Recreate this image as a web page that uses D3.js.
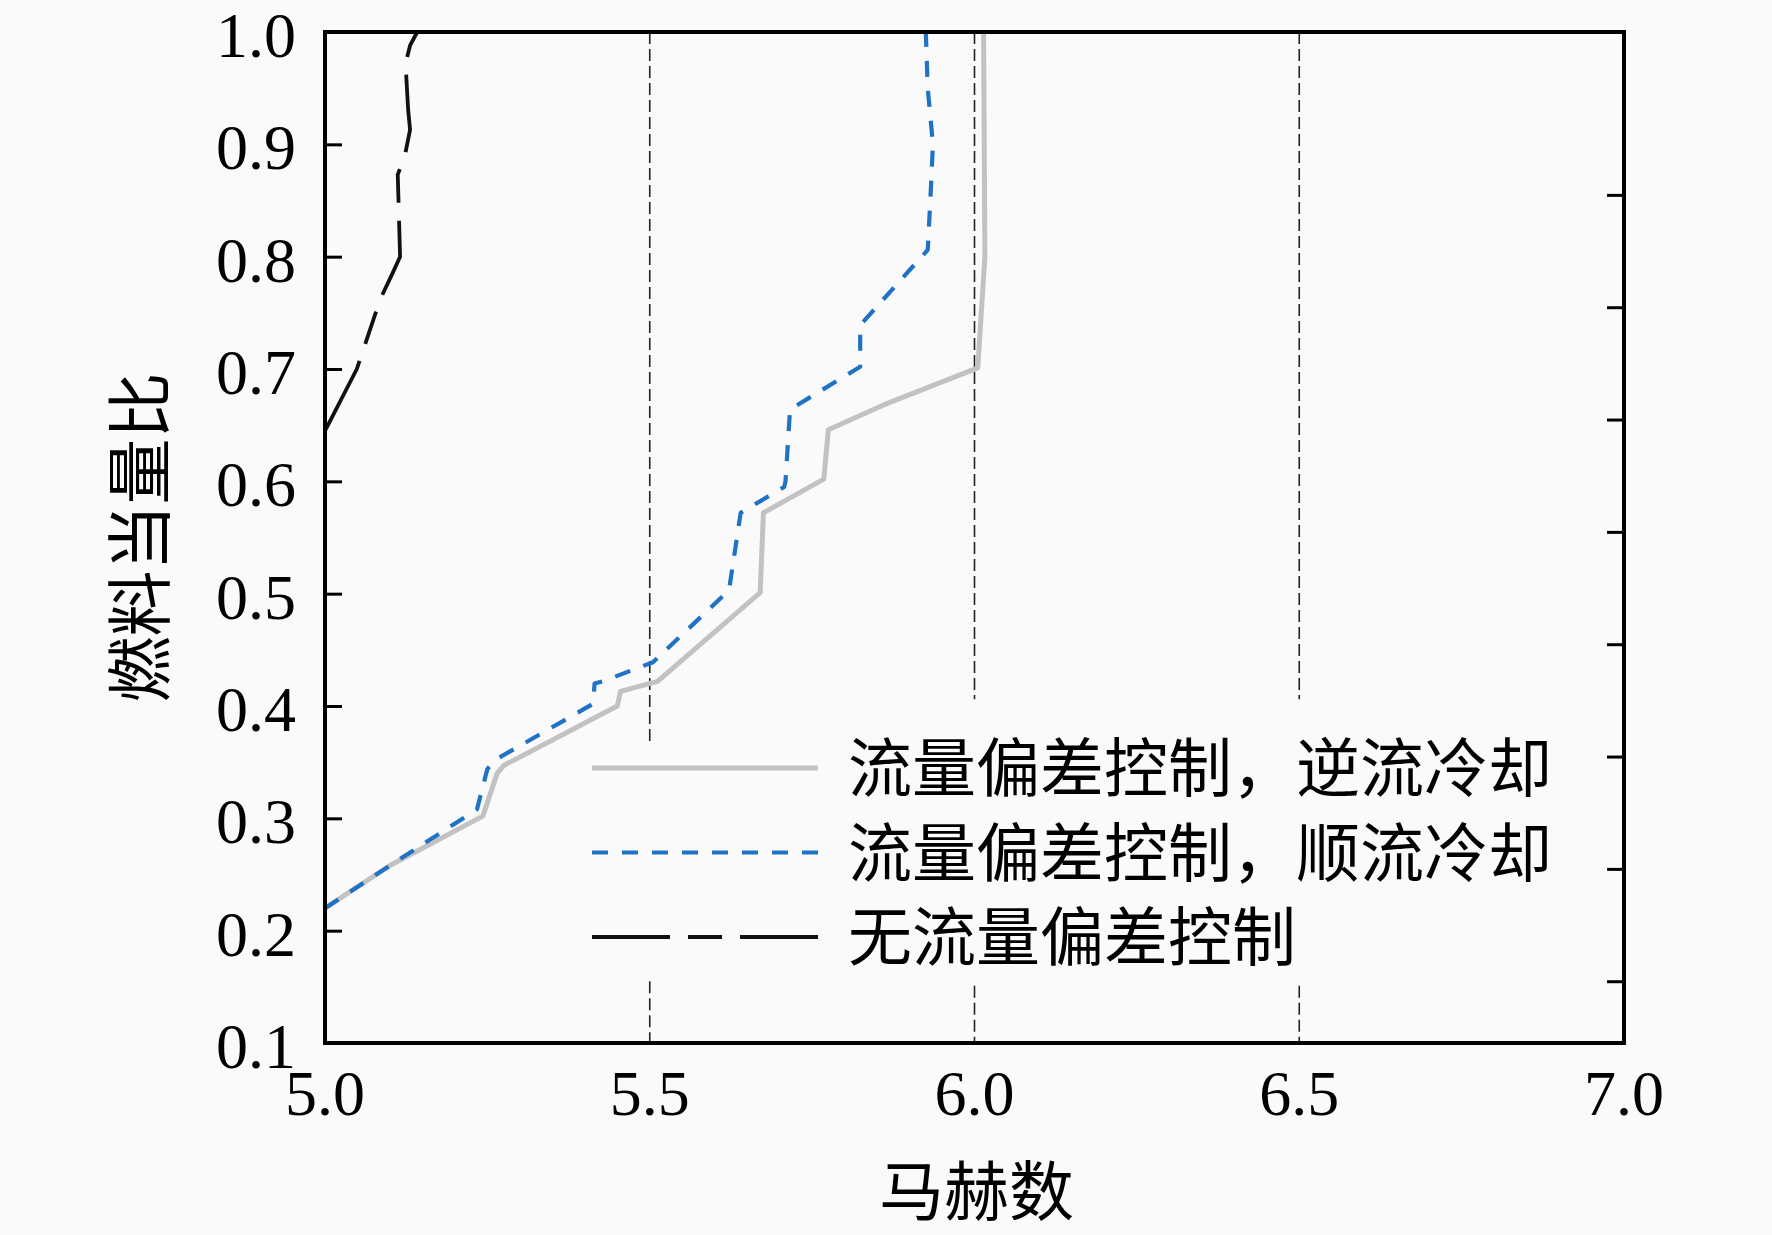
<!DOCTYPE html>
<html>
<head>
<meta charset="utf-8">
<script src="https://cdn.jsdelivr.net/npm/d3@7"></script>
<style>
  body { margin: 0; background: #fafafa; }
  svg { display: block; }
</style>
</head>
<body>
<div id="chart"></div>
<script>
// Data (Mach number vs. fuel equivalence ratio)
var counterMach = [5.00, 5.10, 5.243, 5.265, 5.275, 5.45, 5.455, 5.512, 5.670, 5.675, 5.768, 5.775, 5.86, 6.005, 6.016, 6.014];
var counterPhi  = [0.220, 0.258, 0.302, 0.340, 0.347, 0.400, 0.413, 0.422, 0.501, 0.572, 0.602, 0.646, 0.668, 0.701, 0.80, 1.00];

var coMach = [5.00, 5.10, 5.234, 5.25, 5.265, 5.413, 5.415, 5.428, 5.505, 5.622, 5.64, 5.707, 5.709, 5.716, 5.824, 5.824, 5.928, 5.932, 5.936, 5.928, 5.925];
var coPhi  = [0.220, 0.258, 0.308, 0.344, 0.353, 0.402, 0.420, 0.422, 0.439, 0.503, 0.572, 0.595, 0.600, 0.664, 0.702, 0.739, 0.806, 0.85, 0.90, 0.95, 1.00];

var noneMach = [5.00, 5.049, 5.085, 5.103, 5.1156, 5.112, 5.123, 5.131, 5.128, 5.124, 5.131, 5.142];
var nonePhi  = [0.645, 0.700, 0.762, 0.784, 0.800, 0.873, 0.890, 0.913, 0.931, 0.972, 0.988, 1.000];

var seriesNames = ['流量偏差控制，逆流冷却', '流量偏差控制，顺流冷却', '无流量偏差控制'];

var xTicks = [5.0, 5.5, 6.0, 6.5, 7.0];
var yTicks = [0.1, 0.2, 0.3, 0.4, 0.5, 0.6, 0.7, 0.8, 0.9, 1.0];
var yTicksRight = [0.155, 0.255, 0.355, 0.455, 0.555, 0.655, 0.755, 0.855];

// vertical reference lines and where the legend interrupts them
var refMach = [5.5, 6.0, 6.5];
var refGapTop = [0.368, 0.406, 0.406];
var refGapBottom = [0.155, 0.151, 0.151];

// Base chart space
var margin = {top: 32, right: 148, bottom: 192, left: 325},
    width = 1772 - margin.left - margin.right,
    height = 1235 - margin.top - margin.bottom;

var svg = d3.select('#chart').append('svg')
    .attr('width', 1772)
    .attr('height', 1235);
var g = svg.append('g')
    .attr('transform', 'translate(' + margin.left + ',' + margin.top + ')');

var xScale = d3.scaleLinear().domain([5.0, 7.0]).range([0, width]);
var yScale = d3.scaleLinear().domain([0.1, 1.0]).range([height, 0]);

var numFont = '"Liberation Serif", "Times New Roman", serif';
var cjkFont = '"Noto Sans CJK SC", sans-serif';

// Reference dashed lines
refMach.forEach(function(m, i) {
    var segs = [[1.0, refGapTop[i]], [refGapBottom[i], 0.1]];
    segs.forEach(function(s) {
        g.append('line')
            .attr('x1', xScale(m)).attr('x2', xScale(m))
            .attr('y1', yScale(s[0])).attr('y2', yScale(s[1]))
            .attr('stroke', '#222')
            .attr('stroke-width', 1.6)
            .attr('stroke-dasharray', '12,5');
    });
});

// Curves
function zip(xs, ys) { return xs.map(function(x, i) { return [x, ys[i]]; }); }
var line = d3.line()
    .x(function(d) { return xScale(d[0]); })
    .y(function(d) { return yScale(d[1]); });

var series = [
    {data: zip(counterMach, counterPhi), color: '#c2c2c2', w: 5, dash: null},
    {data: zip(coMach, coPhi), color: '#1f72c4', w: 4.2, dash: '16,14'},
    {data: zip(noneMach, nonePhi), color: '#111', w: 3.8, dash: '78,18,34,18'}
];

series.forEach(function(s) {
    g.append('path')
        .datum(s.data)
        .attr('d', line)
        .attr('fill', 'none')
        .attr('stroke', s.color)
        .attr('stroke-width', s.w)
        .attr('stroke-linejoin', 'round')
        .attr('stroke-dasharray', s.dash);
});

// Axes (ticks inside, labels drawn separately)
var yAxisL = g.append('g')
    .call(d3.axisLeft(yScale).tickValues(yTicks.slice(1, -1)).tickSize(-17).tickFormat(''));
var yAxisR = g.append('g')
    .attr('transform', 'translate(' + width + ',0)')
    .call(d3.axisRight(yScale).tickValues(yTicksRight).tickSize(-17).tickFormat(''));
[yAxisL, yAxisR].forEach(function(a) {
    a.select('.domain').remove();
    a.selectAll('.tick line').attr('stroke', '#000').attr('stroke-width', 3);
});

// Frame
g.append('rect')
    .attr('width', width)
    .attr('height', height)
    .attr('fill', 'none')
    .attr('stroke', '#000')
    .attr('stroke-width', 4);

// Tick labels
g.selectAll('.ylab')
    .data(yTicks)
    .enter()
    .append('text')
    .attr('x', -29)
    .attr('y', function(d) { return yScale(d); })
    .attr('dy', '0.39em')
    .attr('text-anchor', 'end')
    .attr('font-family', numFont)
    .attr('font-size', '64px')
    .text(function(d) { return d.toFixed(1); });

g.selectAll('.xlab')
    .data(xTicks)
    .enter()
    .append('text')
    .attr('x', function(d) { return xScale(d); })
    .attr('y', height + 72)
    .attr('text-anchor', 'middle')
    .attr('font-family', numFont)
    .attr('font-size', '64px')
    .text(function(d) { return d.toFixed(1); });

// Axis titles
svg.append('text')
    .attr('x', margin.left + xScale(6.0) + 2)
    .attr('y', 1192)
    .attr('dy', '0.35em')
    .attr('text-anchor', 'middle')
    .attr('font-family', cjkFont)
    .attr('font-size', '65px')
    .text('马赫数');

svg.append('text')
    .attr('transform', 'translate(141,' + (margin.top + height / 2) + ')rotate(-90)')
    .attr('dy', '0.35em')
    .attr('text-anchor', 'middle')
    .attr('font-family', cjkFont)
    .attr('font-size', '66px')
    .text('燃料当量比');

// Legend
var legend_x = 592 - margin.left,
    legend_y = 768 - margin.top,
    row = 84.5,
    sample = 226;
var legend = g.append('g');
series.forEach(function(s, i) {
    legend.append('line')
        .attr('x1', legend_x)
        .attr('x2', legend_x + sample)
        .attr('y1', legend_y + i * row)
        .attr('y2', legend_y + i * row)
        .attr('stroke', s.color)
        .attr('stroke-width', s.w)
        .attr('stroke-dasharray', s.dash);
    legend.append('text')
        .attr('x', legend_x + sample + 30)
        .attr('y', legend_y + i * row)
        .attr('dy', '0.36em')
        .attr('font-family', cjkFont)
        .attr('font-size', '64px')
        .text(seriesNames[i]);
});
</script>
</body>
</html>
